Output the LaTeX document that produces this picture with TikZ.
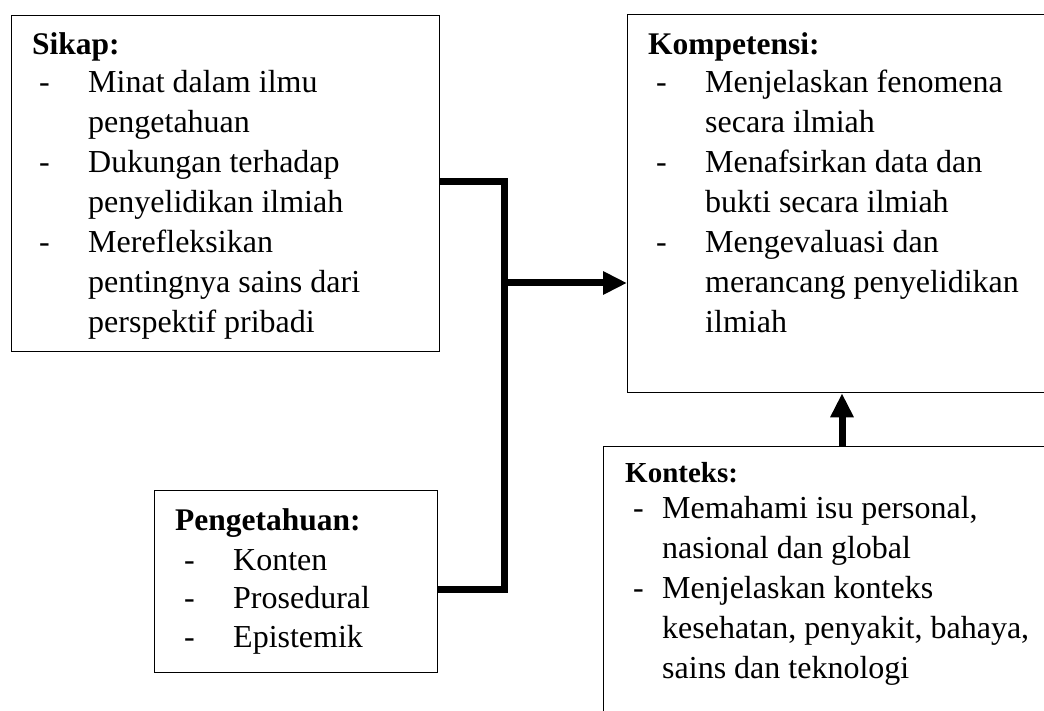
\documentclass[tikz,border=0pt]{standalone}
\usepackage{fontspec}
\setmainfont{Liberation Serif}
\usetikzlibrary{arrows.meta}
\newcommand\fszreg{\fontsize{32}{40}\selectfont}
\newcommand\fszhead{\fontsize{31.5}{40}\selectfont\bfseries}
\newcommand\fszsmall{\fontsize{29}{40}\selectfont\bfseries}
\begin{document}
\begin{tikzpicture}[x=1pt,y=-1pt,
  box/.style={draw=black,line width=1.3pt,anchor=north west,inner sep=0pt,fill=none},
  txt/.style={anchor=base west,inner sep=0pt,font=\fszreg},
  head/.style={anchor=base west,inner sep=0pt,font=\fszhead},
  conn/.style={draw=black,line width=7pt,line join=miter},
  arr/.style={-{Triangle[length=24pt,width=22pt]}}
]
\useasboundingbox (0,0) rectangle (1044,711);
\clip (0,0) rectangle (1044,711);

% boxes
\node[box,minimum width=428,minimum height=336] (sikap) at (11,15) {};
\node[box,minimum width=440,minimum height=378] (komp) at (627,14) {};
\node[box,minimum width=460,minimum height=280] (konteks) at (603,446) {};
\node[box,minimum width=283,minimum height=182] (peng) at (154,490) {};

% Sikap text
\node[head] (s0) at (32,55) {Sikap:};
\node[txt] (sd1) at (39,93) {-};
\node[txt] (sd2) at (39,173) {-};
\node[txt] (sd3) at (39,253) {-};
\node[txt] (s1) at (88,93) {Minat dalam ilmu};
\node[txt] (s2) at (88,133) {pengetahuan};
\node[txt] (s3) at (88,173) {Dukungan terhadap};
\node[txt] (s4) at (88,213) {penyelidikan ilmiah};
\node[txt] (s5) at (88,253) {Merefleksikan};
\node[txt] (s6) at (88,293) {pentingnya sains dari};
\node[txt] (s7) at (88,333) {perspektif pribadi};

% Kompetensi text
\node[head] (k0) at (648,55) {Kompetensi:};
\node[txt] (kd1) at (656,93) {-};
\node[txt] (kd2) at (656,173) {-};
\node[txt] (kd3) at (656,253) {-};
\node[txt] (k1) at (705,93) {Menjelaskan fenomena};
\node[txt] (k2) at (705,133) {secara ilmiah};
\node[txt] (k3) at (705,173) {Menafsirkan data dan};
\node[txt] (k4) at (705,213) {bukti secara ilmiah};
\node[txt] (k5) at (705,253) {Mengevaluasi dan};
\node[txt] (k6) at (705,293) {merancang penyelidikan};
\node[txt] (k7) at (705,332) {ilmiah};

% Pengetahuan text
\node[head] (p0) at (175,530) {Pengetahuan:};
\node[txt] (pd1) at (184,570) {-};
\node[txt] (pd2) at (184,608) {-};
\node[txt] (pd3) at (184,647) {-};
\node[txt] (p1) at (233,570) {Konten};
\node[txt] (p2) at (233,608) {Prosedural};
\node[txt] (p3) at (233,647) {Epistemik};

% Konteks text
\node[anchor=base west,inner sep=0pt,font=\fszsmall] (t0) at (625,482) {Konteks:};
\node[txt] (td1) at (633,518) {-};
\node[txt] (td2) at (633,598) {-};
\node[txt] (t1) at (662,518) {Memahami isu personal,};
\node[txt] (t2) at (662,558) {nasional dan global};
\node[txt] (t3) at (662,598) {Menjelaskan konteks};
\node[txt] (t4) at (662,638) {kesehatan, penyakit, bahaya,};
\node[txt] (t5) at (662,678) {sains dan teknologi};

% connectors
\coordinate (jtop) at (504,182);
\coordinate (jbot) at (504,589);
\coordinate (jmid) at (504,283);
\coordinate (ax) at (842,0);
\draw[conn] (sikap.east |- jtop) -- (jtop) -- (jbot) -- (peng.east |- jbot);
\draw[conn,arr] (jmid) -- (komp.west |- jmid);
\draw[conn,arr] (konteks.north -| ax) -- (komp.south -| ax);
\end{tikzpicture}
\end{document}
